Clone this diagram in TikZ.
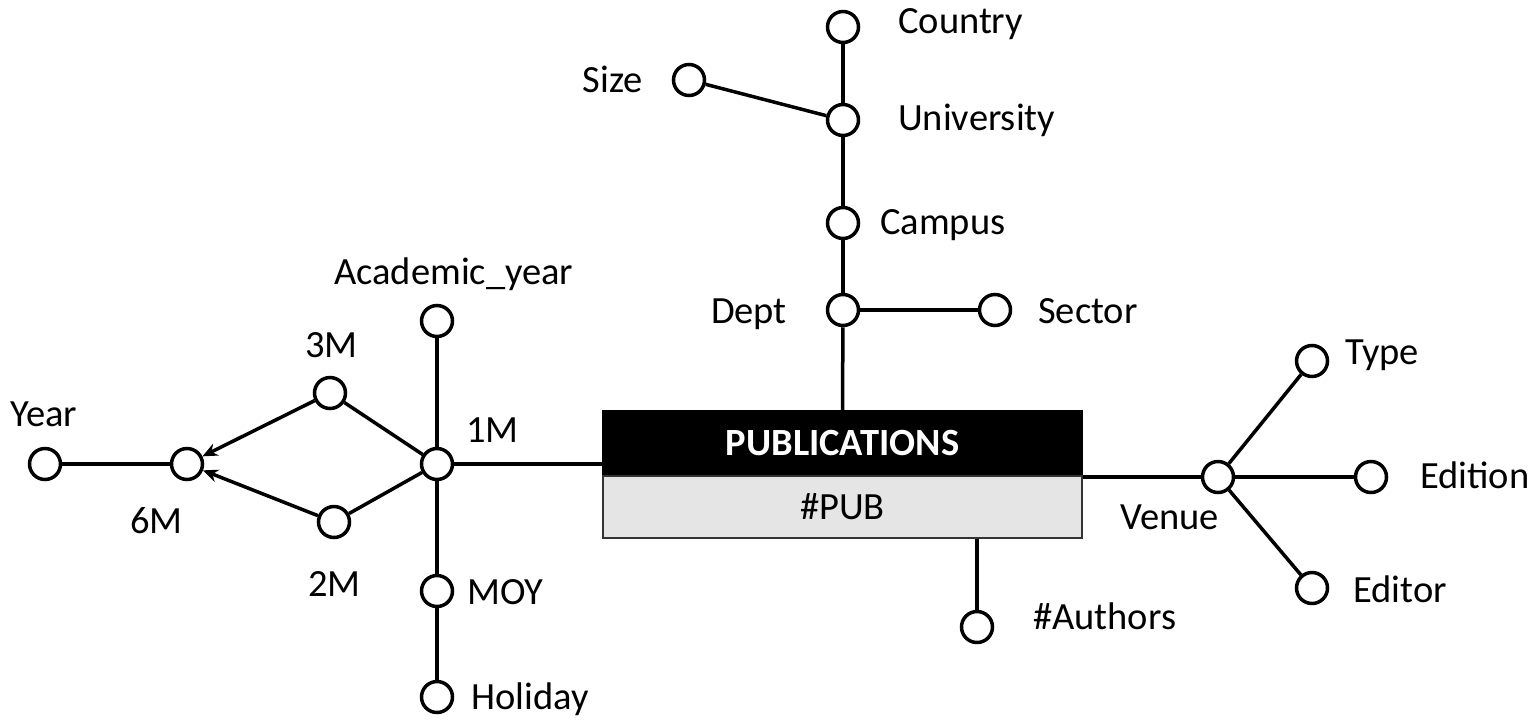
\documentclass[tikz,border=0pt]{standalone}
\usepackage{fontspec}
\setmainfont{Carlito}
\usetikzlibrary{arrows.meta}
\begin{document}
\begin{tikzpicture}[x=1pt,y=-1pt,
  attr/.style={circle,draw,line width=3.5pt,fill=white,minimum size=31pt,inner sep=0pt},
  conn/.style={line width=3.5pt},
  arr/.style={line width=3.5pt,-{Stealth[length=15pt,width=13pt]}},
  lbl/.style={inner sep=0pt,text height=24.6pt,text depth=0pt,font=\fontsize{38.5}{46}\selectfont}]
\useasboundingbox (0,0) rectangle (1534,721);
% box
\node[fill=black,draw=black,line width=1.5pt,minimum width=479pt,minimum height=65pt,inner sep=0pt,
  text=white,font=\fontsize{38.5}{46}\selectfont\bfseries,text height=24.6pt,text depth=0pt] (title) at (842.5,443.5) {PUBLICATIONS};
\node[fill=black!10,draw=black!80,line width=1.5pt,minimum width=479pt,minimum height=62pt,inner sep=0pt,
  font=\fontsize{38.5}{46}\selectfont,text height=24.6pt,text depth=0pt] (pubattr) at (842.5,507) {\#PUB};
% circles
\node[attr] (year) at (45,464) {};
\node[attr] (m6) at (187,464) {};
\node[attr] (m3) at (330,393) {};
\node[attr] (m2) at (334,522) {};
\node[attr] (m1) at (437,464) {};
\node[attr] (acy) at (437,321) {};
\node[attr] (moy) at (437,591) {};
\node[attr] (hol) at (437,697) {};
\node[attr] (country) at (843,27) {};
\node[attr] (univ) at (843,120) {};
\node[attr] (size) at (689,80) {};
\node[attr] (campus) at (843,223) {};
\node[attr] (dept) at (843,310) {};
\node[attr] (sector) at (995,310) {};
\node[attr] (authors) at (977,627) {};
\node[attr] (venue) at (1218,477) {};
\node[attr] (type) at (1312,361) {};
\node[attr] (edition) at (1371,477) {};
\node[attr] (editor) at (1312,588) {};
% connectors
\draw[conn] (year) -- (m6);
\draw[arr] (m3) -- (m6);
\draw[arr] (m2) -- (m6);
\draw[conn] (m3) -- (m1);
\draw[conn] (m2) -- (m1);
\draw[conn] (acy) -- (m1);
\draw[conn] (m1) -- (moy);
\draw[conn] (moy) -- (hol);
\draw[conn] (m1) -- (m1 -| title.west);
\draw[conn] (country) -- (univ);
\draw[conn] (size) -- (univ);
\draw[conn] (univ) -- (campus);
\draw[conn] (campus) -- (dept);
\draw[conn] (dept) -- (sector);
\draw[conn] (dept) -- (title.north);
\draw[conn] (authors |- pubattr.south) -- (authors);
\draw[conn] (venue -| title.east) -- (venue);
\draw[conn] (venue) -- (type);
\draw[conn] (venue) -- (edition);
\draw[conn] (venue) -- (editor);
% labels
\node[lbl,anchor=west] (lcountry) at (898,21.5) {Country};
\node[lbl,anchor=west] (luniv) at (898,118) {University};
\node[lbl,anchor=east] (lsize) at (643,80) {Size};
\node[lbl,anchor=west] (lcampus) at (880,222) {Campus};
\node[lbl,anchor=east] (ldept) at (787,311) {Dept};
\node[lbl,anchor=west] (lsector) at (1038,311) {Sector};
\node[lbl,anchor=west] (lacy) at (334,272) {Academic\_year};
\node[lbl,anchor=west] (l3m) at (305,345) {3M};
\node[lbl,anchor=west] (lyear) at (10,414) {Year};
\node[lbl,anchor=west] (l1m) at (466,430) {1M};
\node[lbl,anchor=west] (l6m) at (130,521) {6M};
\node[lbl,anchor=west] (l2m) at (308,584) {2M};
\node[lbl,anchor=west] (lmoy) at (467,592) {MOY};
\node[lbl,anchor=west] (lhol) at (471,697) {Holiday};
\node[lbl,anchor=west] (lauthors) at (1033,617) {\#Authors};
\node[lbl,anchor=west] (lvenue) at (1120,517) {Venue};
\node[lbl,anchor=west] (ltype) at (1345,352) {Type};
\node[lbl,anchor=west] (ledition) at (1420,476) {Edition};
\node[lbl,anchor=west] (leditor) at (1353,590) {Editor};
\end{tikzpicture}
\end{document}
